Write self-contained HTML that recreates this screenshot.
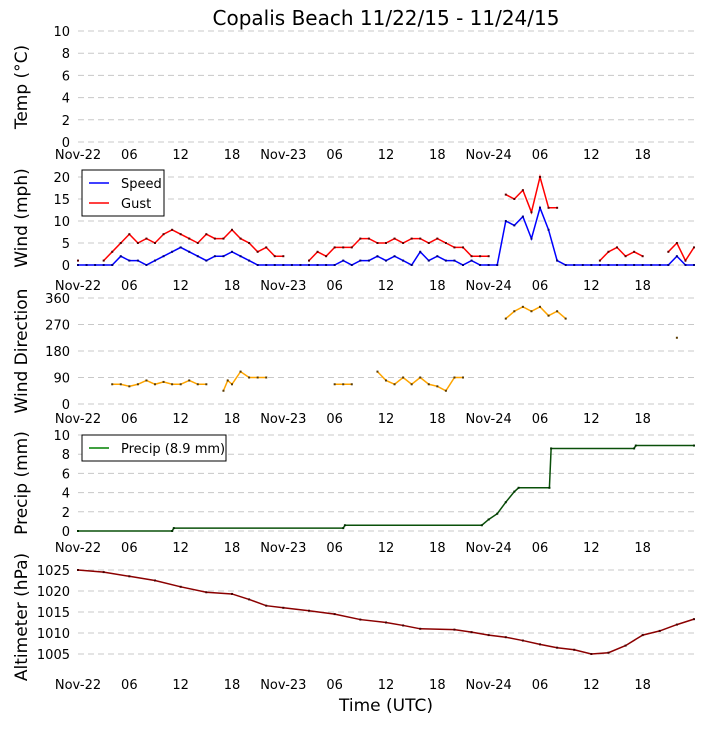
<!DOCTYPE html>
<html><head><meta charset="utf-8"><style>
body{margin:0;background:#fff;width:705px;height:725px;overflow:hidden}
svg{font-family:"DejaVu Sans","Liberation Sans",sans-serif}
</style></head><body>
<svg id="chart" width="705" height="725" xmlns="http://www.w3.org/2000/svg">
<text x="386" y="25" font-size="20" text-anchor="middle">Copalis Beach 11/22/15 - 11/24/15</text>
</svg>
<script>
// x tick labels (every 6 hours)
const xTickHours = [0,6,12,18,24,30,36,42,48,54,60,66];
const xTickLabels = ["Nov-22","06","12","18","Nov-23","06","12","18","Nov-24","06","12","18"];
// hourly wind (mph), hours 0..72
const windSpeed = [0,0,0,0,0,2,1,1,0,1,2,3,4,3,2,1,2,2,3,2,1,0,0,0,0,0,0,0,0,0,0,1,0,1,1,2,1,2,1,0,3,1,2,1,1,0,1,0,0,0,10,9,11,6,13,8,1,0,0,0,0,0,0,0,0,0,0,0,0,0,2,0,0];
const windGust = [1,null,null,1,3,5,7,5,6,5,7,8,7,6,5,7,6,6,8,6,5,3,4,2,2,null,null,1,3,2,4,4,4,6,6,5,5,6,5,6,6,5,6,5,4,4,2,2,2,null,16,15,17,12,20,13,13,null,null,null,null,1,3,4,2,3,2,null,null,3,5,1,4];
// wind direction (deg) with times (h)
const dirHours = [4,5,6,7,8,9,10,11,12,13,14,15,17,17.5,18,19,20,21,22,30,31,32,35,36,37,38,39,40,41,42,43,44,45,50,51,52,53,54,55,56,57,70];
const dirValues = [67,67,60,67,80,67,75,67,67,80,67,67,45,80,67,110,90,90,90,67,67,67,110,80,67,90,67,90,67,60,45,90,90,290,315,330,315,330,300,315,290,225];
// cumulative precip (mm)
const precipHours = [0,11,11.2,31,31.2,47.2,48,49,50,51,51.5,55.1,55.3,65,65.2,72];
const precipValues = [0,0,0.3,0.3,0.6,0.6,1.2,1.8,3.0,4.1,4.5,4.5,8.6,8.6,8.9,8.9];
// altimeter (hPa)
const altHours = [0,3,6,9,12,15,18,20,22,24,27,30,33,36,38,40,44,46,48,50,52,54,56,58,60,62,64,66,68,70,72];
const altValues = [1025,1024.5,1023.5,1022.5,1021,1019.7,1019.3,1018,1016.5,1016,1015.3,1014.5,1013.2,1012.5,1011.8,1011,1010.8,1010.2,1009.5,1009,1008.2,1007.3,1006.5,1006,1005,1005.3,1007,1009.5,1010.5,1012,1013.3];

const svg=document.getElementById('chart');
const NS='http://www.w3.org/2000/svg';
const X0=78,X1=694;
function xs(h){return X0+(h/72)*(X1-X0);}
function mk(tag,attrs,parent){const e=document.createElementNS(NS,tag);for(const k in attrs)e.setAttribute(k,attrs[k]);(parent||svg).appendChild(e);return e;}
function panel(name,y0px,yTopPx,vmin,vtop,ticks,ylabel,ylabCy,xlabY){
  const ys=v=>y0px-(v-vmin)/(vtop-vmin)*(y0px-yTopPx);
  const g=mk('g',{});
  
  
  ticks.forEach(t=>{
    const l=mk('line',{x1:X0,x2:X1,y1:ys(t),y2:ys(t),stroke:'#c8c8c8','stroke-dasharray':'6,4','stroke-width':1},g);
    
    
    const tx=mk('text',{x:70,y:ys(t)+5,'font-size':13,'text-anchor':'end'},g);
    
    
    tx.textContent=t;
  });
  xTickHours.forEach((h,i)=>{
    const tx=mk('text',{x:xs(h),y:xlabY,'font-size':13,'text-anchor':'middle'},g);
    
    
    tx.textContent=xTickLabels[i];
  });
  const yl=mk('text',{x:0,y:0,'font-size':17,'text-anchor':'middle',transform:`translate(27,${ylabCy}) rotate(-90)`},g);
  
  
  yl.textContent=ylabel;
  return {g,ys};
}
function series(g,hours,vals,ys,color,marker,name,connect){
  let segs=[],cur=[];
  for(let i=0;i<vals.length;i++){
    if(vals[i]===null||vals[i]===undefined){if(cur.length)segs.push(cur);cur=[];continue;}
    if(connect===false&&cur.length&&hours[i]-hours[i-1]>1.6){segs.push(cur);cur=[];}
    cur.push([xs(hours[i]),ys(vals[i])]);
  }
  if(cur.length)segs.push(cur);
  segs.forEach(s=>{
    if(s.length>1){
      const p=mk('polyline',{points:s.map(q=>q.join(',')).join(' '),fill:'none',stroke:color,'stroke-width':1.5},g);
      
      
    }
    s.forEach(q=>{
      const r=mk('rect',{x:q[0]-1,y:q[1]-1,width:2,height:2,fill:marker},g);
      
      
    });
  });
}
function legend(g,x,y,w,entries){
  const h=entries.length*20+6;
  const b=mk('rect',{x,y,width:w,height:h,fill:'#fff',stroke:'#000','stroke-width':1},g);
  
  
  entries.forEach((e,i)=>{
    const cy=y+13+i*20;
    const l=mk('line',{x1:x+7,x2:x+27,y1:cy,y2:cy,stroke:e[1],'stroke-width':1.5},g);
    
    
    const t=mk('text',{x:x+39,y:cy+5,'font-size':13},g);
    
    
    t.textContent=e[0];
  });
}
const hourly=windSpeed.map((_,i)=>i);
// Temp
panel('temp',142,31,0,10,[0,2,4,6,8,10],'Temp (\u00B0C)',87,159);
// Wind
let p=panel('wind',265,177,0,20,[0,5,10,15,20],'Wind (mph)',218,290);
series(p.g,hourly,windGust,p.ys,'#ff0000','#5a0000','gust');
series(p.g,hourly,windSpeed,p.ys,'#0000ff','#00007a','speed');
legend(p.g,82,170,82,[['Speed','#0000ff'],['Gust','#ff0000']]);
// Wind dir
p=panel('wind-direction',404,298,0,360,[0,90,180,270,360],'Wind Direction',351,423);
series(p.g,dirHours,dirValues,p.ys,'#ffa500','#5a3a00','direction',false);
// Precip
p=panel('precip',531,435,0,10,[0,2,4,6,8,10],'Precip (mm)',483,552);
series(p.g,precipHours,precipValues,p.ys,'#0a500a','#003000','precip');
legend(p.g,82,435,144,[['Precip (8.9 mm)','#008000']]);
// Altimeter
p=panel('altimeter',654,570,1005,1025,[1005,1010,1015,1020,1025],'Altimeter (hPa)',617,689);
series(p.g,altHours,altValues,p.ys,'#8b0000','#4a0000','altimeter');
const xt=mk('text',{x:386,y:711,'font-size':17,'text-anchor':'middle'});


xt.textContent='Time (UTC)';
</script>
</body></html>
